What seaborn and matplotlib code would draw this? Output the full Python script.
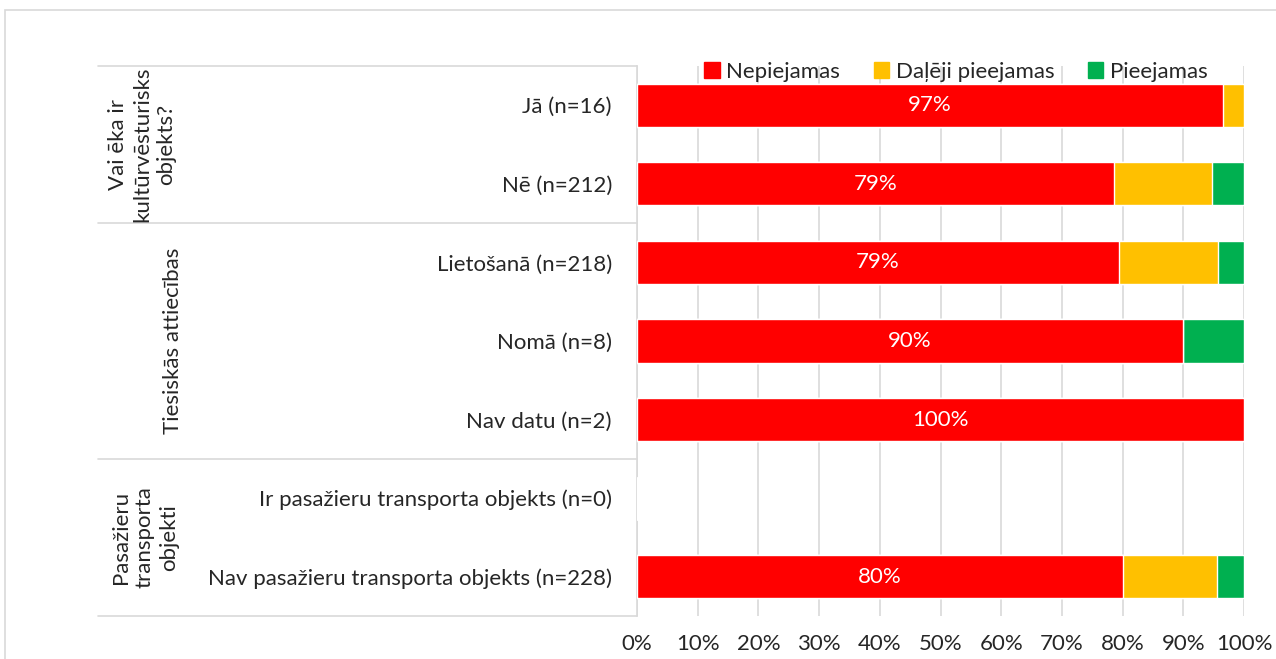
import numpy as np
import pandas as pd
import matplotlib.pyplot as plt
import seaborn as sns
from matplotlib.patches import Patch, Rectangle
from matplotlib.transforms import blended_transform_factory

# dati
categories = ["Jā (n=16)", "Nē (n=212)", "Lietošanā (n=218)", "Nomā (n=8)",
              "Nav datu (n=2)", "Ir pasažieru transporta objekts (n=0)",
              "Nav pasažieru transporta objekts (n=228)"]
nepiejamas = [96.6, 78.6, 79.4, 90.0, 100.0, 0.0, 80.0]
daleji = [3.4, 16.2, 16.3, 0.0, 0.0, 0.0, 15.5]
pieejamas = [0.0, 5.2, 4.3, 10.0, 0.0, 0.0, 4.5]
series_names = ["Nepiejamas", "Daļēji pieejamas", "Pieejamas"]
colors = ["#FF0000", "#FFC000", "#00B050"]
groups = ["Vai ēka ir\nkultūrvēsturisks\nobjekts?", "Tiesiskās attiecības",
          "Pasažieru\ntransporta\nobjekti"]
xticks = [0, 10, 20, 30, 40, 50, 60, 70, 80, 90, 100]

sns.set_theme(style="white")
plt.rcParams['font.family'] = ['Lato', 'DejaVu Sans']
FS = 16

df = pd.DataFrame({"cat": categories, "red": nepiejamas, "yel": daleji, "grn": pieejamas})
df["c1"] = df["red"]
df["c2"] = df["red"] + df["yel"]
df["c3"] = df["c2"] + df["grn"]

fig = plt.figure(figsize=(12.76, 6.59), dpi=100)
ax = fig.add_axes([637 / 1276, 1 - 616 / 659, 607 / 1276, 550 / 659])

# sakrautie stabiņi: vispirms kopsumma, tad virsū mazākās
sns.barplot(data=df, x="c3", y="cat", color=colors[2], width=0.55, ax=ax, saturation=1, zorder=3)
sns.barplot(data=df, x="c2", y="cat", color=colors[1], width=0.55, ax=ax, saturation=1, zorder=3)
sns.barplot(data=df, x="c1", y="cat", color=colors[0], width=0.55, ax=ax, saturation=1, zorder=3)

red = ax.containers[-1]
labels = [f"{v:.0f}%" if v > 0 else "" for v in df["red"]]
ax.bar_label(red, labels=labels, label_type="center", color="white", fontsize=FS)

ax.set_xlim(0, 100)
ax.set_ylim(6.5, -0.5)
ax.set_xticks(xticks)
ax.set_xticklabels([f"{t}%" for t in xticks], fontsize=FS)
ax.set_yticks(range(len(categories)))
ax.set_yticklabels(categories, fontsize=FS)
ax.tick_params(axis="x", length=0, pad=13)
ax.tick_params(axis="y", length=0, pad=18)
ax.set_xlabel("")
ax.set_ylabel("")
ax.grid(axis="x", color="#D9D9D9", lw=1.2, zorder=0)
for s in ["top", "right", "bottom"]:
    ax.spines[s].set_visible(False)
ax.spines["left"].set_color("#D9D9D9")
ax.spines["left"].set_linewidth(1.2)

# grupu atdalītāji un nosaukumi
tr = blended_transform_factory(ax.transAxes, ax.transData)
for y in [-0.5, 1.5, 4.5, 6.5]:
    ax.plot([-0.888, 0], [y, y], color="#D9D9D9", lw=1.2, transform=tr, clip_on=False)
ax.text(-0.815, 0.5, groups[0], rotation=90, ha="center", va="center",
        fontsize=FS, transform=tr, linespacing=1.25)
ax.text(-0.764, 3.0, groups[1], rotation=90, ha="center", va="center",
        fontsize=FS, transform=tr)
ax.text(-0.811, 5.5, groups[2], rotation=90, ha="center", va="center",
        fontsize=FS, transform=tr, linespacing=1.25)

handles = [Patch(color=c) for c in colors]
fig.legend(handles, series_names, loc="center", bbox_to_anchor=(956 / 1276, 1 - 72 / 659),
           ncol=3, frameon=False, fontsize=FS, handlelength=0.7, handleheight=0.7,
           handletextpad=0.3, columnspacing=1.5)

fig.add_artist(Rectangle((5 / 1276, -0.01), 1.0, 1 - 10 / 659 + 0.01, transform=fig.transFigure,
                         fill=False, ec="#D9D9D9", lw=1.2))

fig.savefig("out.png", dpi=100)
